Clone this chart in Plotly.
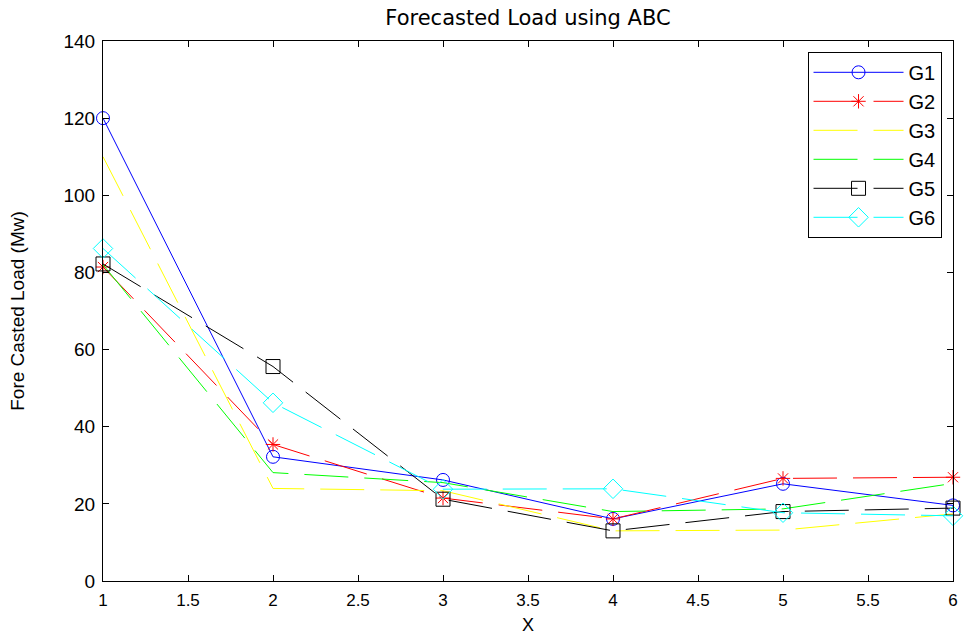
import plotly.graph_objects as go

x_vals = [1, 2, 3, 4, 5, 6]
series_names = ["G1", "G2", "G3", "G4", "G5", "G6"]
g1 = [120.0, 32.2, 26.2, 16.1, 25.2, 19.6]
g2 = [81.4, 35.4, 21.5, 16.1, 26.6, 26.9]
g3 = [110.0, 24.0, 23.4, 13.0, 13.2, 17.4]
g4 = [82.0, 28.1, 25.5, 18.0, 18.7, 25.3]
g5 = [82.2, 55.6, 21.2, 13.0, 18.0, 18.9]
g6 = [86.2, 46.2, 23.8, 23.9, 17.7, 16.9]
y_ticks = [0, 20, 40, 60, 80, 100, 120, 140]
x_ticks = [1, 1.5, 2, 2.5, 3, 3.5, 4, 4.5, 5, 5.5, 6]
x_tick_labels = ["1", "1.5", "2", "2.5", "3", "3.5", "4", "4.5", "5", "5.5", "6"]

styles = [
    dict(color="#0000ff", dash="solid", symbol="circle-open", size=13),
    dict(color="#ff0000", dash="44px,16px", symbol="asterisk-open", size=12),
    dict(color="#ffff00", dash="44px,16px", symbol=None, size=0),
    dict(color="#00ff00", dash="44px,16px", symbol=None, size=0),
    dict(color="#000000", dash="44px,16px", symbol="square-open", size=14),
    dict(color="#00ffff", dash="44px,16px", symbol="diamond-open", size=15),
]

fig = go.Figure()
for name, vals, st in zip(series_names, [g1, g2, g3, g4, g5, g6], styles):
    if st["symbol"]:
        mode = "lines+markers"
        marker = dict(symbol=st["symbol"], size=st["size"], color=st["color"],
                      line=dict(color=st["color"], width=1))
    else:
        mode = "lines"
        marker = None
    fig.add_trace(go.Scatter(
        x=x_vals, y=vals, name=name, mode=mode,
        line=dict(color=st["color"], width=1, dash=st["dash"]),
        marker=marker, cliponaxis=False, legendgroup=name,
    ))

font_family = "Liberation Sans, Arial, sans-serif"
fig.update_layout(
    width=964, height=639,
    margin=dict(l=103, r=11, t=41, b=58, autoexpand=False),
    paper_bgcolor="white", plot_bgcolor="white",
    font=dict(family=font_family, color="black", size=17),
    title=dict(text="Forecasted Load using ABC", x=0.5, xref="paper", xanchor="center",
               y=0.972, yref="container", yanchor="middle",
               font=dict(family="DejaVu Sans, sans-serif", size=21, color="black")),
    xaxis=dict(range=[1, 6], tickvals=x_ticks, ticktext=x_tick_labels,
               ticks="inside", ticklen=6, tickcolor="black",
               showline=True, linecolor="black", linewidth=1, mirror="allticks",
               showgrid=False, zeroline=False, ticklabelstandoff=4, automargin=False,
               title=dict(text="X", font=dict(size=18), standoff=8),
               tickfont=dict(size=17)),
    yaxis=dict(range=[0, 140], tickvals=y_ticks,
               ticks="inside", ticklen=6, tickcolor="black",
               showline=True, linecolor="black", linewidth=1, mirror="allticks",
               showgrid=False, zeroline=False, automargin=False, ticklabelstandoff=3,
               title=dict(text="Fore Casted Load (Mw)", font=dict(size=19), standoff=33),
               tickfont=dict(size=19)),
    legend=dict(x=0.9865, y=0.98, xanchor="right", yanchor="top",
                bordercolor="black", borderwidth=1, bgcolor="white",
                font=dict(size=20), tracegroupgap=0, traceorder="grouped",
                itemwidth=90),
    showlegend=True,
)

fig.write_html(
    "out.html",
    config={"displayModeBar": False},
    post_script="document.body.style.margin='0';document.body.style.overflow='hidden';",
)
